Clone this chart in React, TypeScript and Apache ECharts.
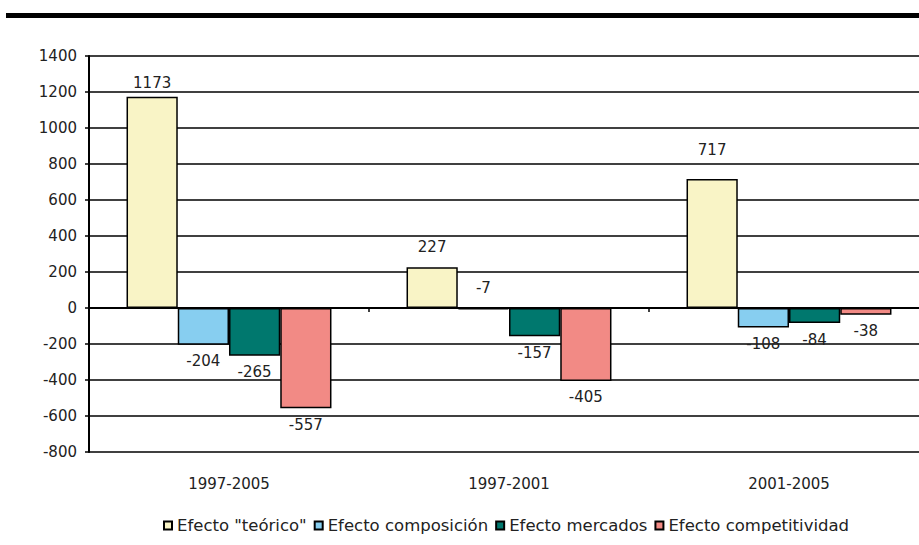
import React, { useEffect, useRef } from "react";
import * as echarts from "echarts";

const categories = ["1997-2005", "1997-2001", "2001-2005"];
const seriesNames = [
  "Efecto \"teórico\"",
  "Efecto composición",
  "Efecto mercados",
  "Efecto competitividad",
];
const teorico = [1173, 227, 717];
const composicion = [-204, -7, -108];
const mercados = [-265, -157, -84];
const competitividad = [-557, -405, -38];
const colors = ["#F9F4C6", "#87CEF0", "#00786E", "#F28A85"];
const yTicks = { min: -800, max: 1400, interval: 200 };

const FONT = "DejaVu Sans";
const TXT = "#222222";

export default function App() {
  const ref = useRef<HTMLDivElement>(null);
  useEffect(() => {
    if (!ref.current) return;
    const chart = echarts.init(ref.current, null, { renderer: "svg" });
    const values = [teorico, composicion, mercados, competitividad];
    // label placement nudges (series index -> category index -> distance)
    const nudge: Record<string, number> = { "0-1": 13, "0-2": 21, "1-1": 12 };
    const series = values.map((vals, si) => ({
      name: seriesNames[si],
      type: "bar",
      xAxisIndex: 0,
      barGap: "0%",
      barCategoryGap: "26.8%",
      itemStyle: { color: colors[si], borderColor: "#000", borderWidth: 1.5 },
      data: vals.map((v, ci) => {
        const key = `${si}-${ci}`;
        const up = v >= 0 || (si === 1 && ci === 1);
        return {
          value: v,
          label: {
            show: true,
            position: up ? "top" : "bottom",
            distance: nudge[key] ?? (up ? 6 : 9),
            color: TXT,
            fontFamily: FONT,
            fontSize: 15,
          },
        };
      }),
    }));
    chart.setOption({
      animation: false,
      backgroundColor: "#fff",
      textStyle: { fontFamily: FONT, color: TXT },
      graphic: [
        { type: "rect", shape: { x: 6, y: 13, width: 930, height: 5 }, style: { fill: "#000" } },
      ],
      grid: { left: 89, top: 56, width: 840, height: 396, containLabel: false },
      legend: {
        left: 158,
        top: 512,
        icon: "rect",
        itemWidth: 8,
        itemHeight: 8,
        itemGap: 7,
        textStyle: { fontFamily: FONT, fontSize: 16.5, color: TXT },
        data: seriesNames,
      },
      xAxis: [
        {
          type: "category",
          data: categories,
          axisLine: { onZero: true, lineStyle: { color: "#000", width: 2 } },
          axisTick: { show: true, length: 4, lineStyle: { color: "#000", width: 1.5 } },
          axisLabel: { show: false },
        },
        {
          type: "category",
          data: categories,
          position: "bottom",
          axisLine: { show: false, onZero: false },
          axisTick: { show: false },
          axisLabel: { show: true, margin: 24, fontFamily: FONT, fontSize: 15, color: TXT },
        },
      ],
      yAxis: {
        type: "value",
        min: yTicks.min,
        max: yTicks.max,
        interval: yTicks.interval,
        axisLine: { show: true, lineStyle: { color: "#000", width: 2 } },
        axisTick: { show: true, length: 4, lineStyle: { color: "#000", width: 1.5 } },
        axisLabel: {
          margin: 12,
          fontFamily: FONT,
          fontSize: 15,
          color: TXT,
          formatter: (v: number) => String(v),
        },
        splitLine: { show: true, lineStyle: { color: "#000", width: 1.5 } },
      },
      series,
    });
    return () => chart.dispose();
  }, []);
  return (
    <div style={{ position: "fixed", left: 0, top: 0, width: 919, height: 545, overflow: "hidden", background: "#fff" }}>
      <div ref={ref} style={{ width: 932, height: 545 }} />
    </div>
  );
}
